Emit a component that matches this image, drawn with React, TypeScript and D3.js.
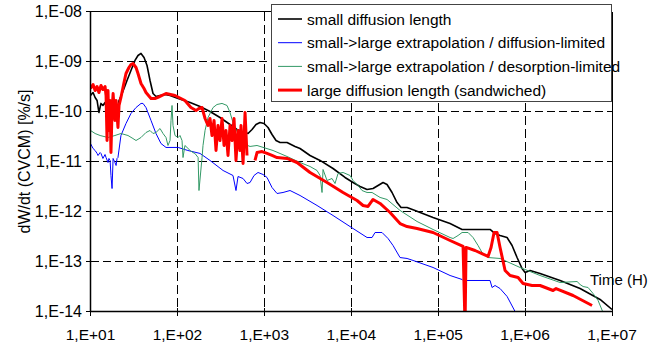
import React from 'react';
import * as d3 from 'd3';

type Pt = [number, number];

const xTicks = [1e1, 1e2, 1e3, 1e4, 1e5, 1e6, 1e7];
const xTickLabels = ['1,E+01', '1,E+02', '1,E+03', '1,E+04', '1,E+05', '1,E+06', '1,E+07'];
const yTicks = [1e-8, 1e-9, 1e-10, 1e-11, 1e-12, 1e-13, 1e-14];
const yTickLabels = ['1,E-08', '1,E-09', '1,E-10', '1,E-11', '1,E-12', '1,E-13', '1,E-14'];

const seriesNames = [
  'small diffusion length',
  'small->large extrapolation / diffusion-limited',
  'small->large extrapolation / desorption-limited',
  'large diffusion length (sandwiched)',
];
const seriesColors = ['#000000', '#0000ff', '#339966', '#ff0000'];
const seriesWidths = [1.6, 1, 1, 3];

const blackData: Pt[] = [
  [10, 2.09e-10], [10.7, 2.4e-10], [11.3, 1.91e-10], [11.9, 1.66e-10], [12.5, 9.55e-11],
  [13.2, 1.45e-10], [13.9, 1.32e-10], [14.7, 1.51e-10], [15.5, 1.05e-10], [16.3, 1.38e-10],
  [17.2, 9.55e-11], [18.2, 1.15e-10], [19.1, 9.12e-11], [20.2, 1.05e-10], [21.3, 1.66e-10],
  [22.4, 2.0e-10], [24.3, 2.88e-10], [26.3, 4.17e-10], [29.2, 6.61e-10], [32.5, 1.05e-9],
  [35.2, 1.32e-9], [38.1, 1.45e-9], [41.3, 1.2e-9], [44.7, 8.32e-10], [48.4, 4.17e-10],
  [52.4, 2.29e-10], [56.7, 2.0e-10], [63.1, 2.09e-10], [72.0, 2.19e-10], [82.2, 2.09e-10],
  [102, 1.82e-10], [140, 1.51e-10], [182, 1.26e-10], [237, 1.0e-10], [309, 7.59e-11],
  [403, 5.5e-11], [485, 4.37e-11], [554, 3.98e-11], [649, 3.63e-11], [722, 4.37e-11],
  [802, 5.5e-11], [892, 6.03e-11], [992, 5.75e-11], [1103, 4.79e-11], [1226, 3.47e-11],
  [1363, 2.63e-11], [1516, 2.4e-11], [1824, 2.4e-11], [2255, 2.0e-11], [2575, 1.82e-11],
  [3356, 1.32e-11], [4374, 1.05e-11], [6171, 7.24e-12], [8481, 4.79e-12], [10490, 3.8e-12],
  [12620, 3.16e-12], [15200, 2.75e-12], [17810, 2.88e-12], [20340, 3.31e-12], [23220, 3.8e-12],
  [25810, 3.47e-12], [29470, 2.4e-12], [33650, 1.51e-12], [37400, 1.2e-12], [43850, 1.2e-12],
  [54200, 1.05e-12], [87320, 7.59e-13], [137000, 5.75e-13], [188300, 4.37e-13], [395400, 4.37e-13],
  [451400, 3.63e-13], [515300, 3.31e-13], [620400, 3.02e-13], [708500, 2.09e-13], [808800, 1.2e-13],
  [923300, 7.24e-14], [1.0e6, 6.03e-14], [1.141e6, 6.61e-14], [1.487e6, 5.75e-14], [2.527e6, 4.17e-14],
  [4.292e6, 2.88e-14], [7.291e6, 1.74e-14], [1e7, 1.1e-14],
];

const blueData: Pt[] = [
  [10, 2.29e-11], [10.7, 1.82e-11], [11.3, 1.66e-11], [11.9, 1.45e-11], [12.2, 1.32e-11],
  [12.9, 1.51e-11], [13.2, 1.45e-11], [13.9, 1.15e-11], [14.7, 1.38e-11], [15.1, 1.2e-11],
  [15.9, 9.55e-12], [16.3, 1.15e-11], [16.8, 1.05e-11], [17.2, 5.25e-12], [17.7, 2.88e-12],
  [18.2, 1.15e-11], [19.1, 9.55e-12], [19.7, 8.32e-12], [20.2, 1.15e-11], [20.7, 1.2e-11],
  [22.4, 3.31e-11], [25.6, 5.75e-11], [29.2, 9.12e-11], [33.4, 1.2e-10], [38.1, 1.45e-10],
  [40.2, 1.45e-10], [43.5, 1.2e-10], [49.7, 6.61e-11], [56.7, 3.63e-11], [64.7, 2.29e-11],
  [73.9, 1.91e-11], [102, 1.91e-11], [132, 1.66e-11], [182, 1.45e-11], [237, 1.05e-11],
  [335, 6.61e-12], [436, 5.25e-12], [472, 2.63e-12], [498, 5.01e-12], [569, 4.57e-12],
  [632, 3.63e-12], [685, 3.8e-12], [761, 5.25e-12], [846, 6.03e-12], [966, 5.5e-12],
  [1074, 4.79e-12], [1226, 3.02e-12], [1400, 2.29e-12], [1641, 2.4e-12], [1975, 2.63e-12],
  [2575, 2.09e-12], [4040, 1.32e-12], [6171, 8.32e-13], [10490, 4.57e-13], [15200, 3.02e-13],
  [17350, 3.02e-13], [18780, 3.8e-13], [22610, 3.8e-13], [26510, 2.88e-13], [30260, 2.09e-13],
  [36420, 1.2e-13], [43850, 1.15e-13], [51400, 1.05e-13], [87320, 7.59e-14], [137000, 5.25e-14],
  [188300, 4.37e-14], [193400, 4.17e-14], [395400, 4.17e-14], [416900, 3.02e-14], [451400, 3.31e-14],
  [515300, 2.88e-14], [620400, 2.0e-14], [767000, 1.0e-14], [808800, 7e-15],
];

const greenData: Pt[] = [
  [10, 4.17e-11], [11.3, 3.63e-11], [12.9, 3.31e-11], [15.9, 3.02e-11], [19.1, 3.31e-11],
  [22.4, 3.63e-11], [27.0, 3.31e-11], [30.8, 2.88e-11], [33.4, 2.63e-11], [38.1, 3.02e-11],
  [43.5, 3.8e-11], [48.4, 4.17e-11], [52.4, 3.63e-11], [56.7, 3.8e-11], [63.1, 4.57e-11],
  [68.3, 3.63e-11], [73.9, 3.02e-11], [77.9, 2.09e-11], [82.2, 2.63e-11], [84.4, 6.61e-11],
  [86.7, 1.32e-10], [89.0, 5.25e-11], [93.8, 3.31e-11], [102, 3.02e-11], [107, 3.31e-11],
  [113, 2.63e-11], [116, 1.2e-11], [122, 2.09e-11], [129, 1.91e-11], [140, 1.66e-11],
  [151, 1.51e-11], [159, 1.45e-11], [173, 1.2e-11], [177, 2.63e-12], [192, 1.2e-11],
  [197, 2.09e-11], [208, 4.17e-11], [225, 7.59e-11], [257, 1.2e-10], [285, 1.38e-10],
  [326, 1.45e-10], [372, 1.32e-10], [403, 9.55e-11], [436, 6.03e-11], [485, 3.98e-11],
  [554, 2.88e-11], [600, 2.19e-11], [685, 2.0e-11], [824, 2.09e-11], [1259, 1.66e-11],
  [1824, 1.26e-11], [2575, 9.55e-12], [3356, 7.94e-12], [4040, 6.61e-12], [4374, 5.25e-12],
  [4612, 2.4e-12], [4736, 6.92e-12], [5265, 4.17e-12], [6010, 4.57e-12], [6507, 3.63e-12],
  [7047, 5.75e-12], [8045, 6.03e-12], [9685, 5.25e-12], [10490, 4.17e-12], [11970, 3.31e-12],
  [13310, 2.63e-12], [15200, 2.4e-12], [17350, 2.4e-12], [21450, 1.91e-12], [25810, 1.74e-12],
  [36420, 1.05e-12], [57150, 6.31e-13], [87320, 4.37e-13], [137000, 3.02e-13], [148400, 2.88e-13],
  [169300, 3.31e-13], [188300, 3.8e-13], [220800, 3.8e-13], [252000, 3.02e-13], [287700, 2.09e-13],
  [319900, 1.51e-13], [375000, 1.2e-13], [515300, 1.15e-13], [875700, 7.59e-14], [1.487e6, 5.25e-14],
  [2.527e6, 3.8e-14], [3.964e6, 3.98e-14], [4.292e6, 3.47e-14], [4.648e6, 3.16e-14], [5.305e6, 3.02e-14],
  [6.056e6, 2.29e-14], [6.915e6, 1.66e-14], [7.897e6, 9.5e-15],
];

const redData: Pt[] = [
  [10, 2.88e-10], [10.7, 3.47e-10], [11.3, 2.63e-10], [11.9, 3.16e-10], [12.5, 2.4e-10],
  [13.2, 3.31e-10], [13.9, 2.75e-10], [14.7, 3.16e-10], [15.1, 2.09e-10], [15.5, 2.63e-11],
  [15.9, 2.63e-10], [16.3, 4.17e-11], [16.8, 1.66e-10], [17.2, 1.51e-11], [17.7, 1.05e-10],
  [18.2, 2.29e-10], [19.1, 6.61e-11], [19.7, 1.66e-10], [20.7, 4.79e-11], [21.3, 1.32e-10],
  [22.4, 1.91e-10], [24.3, 3.8e-10], [25.6, 5.75e-10], [27.7, 7.59e-10], [29.2, 8.71e-10],
  [30.8, 9.12e-10], [33.4, 7.59e-10], [35.2, 5.75e-10], [38.1, 3.63e-10], [41.3, 2.88e-10],
  [43.5, 2.4e-10], [49.7, 1.82e-10], [55.2, 1.82e-10], [59.8, 1.91e-10], [73.9, 2.29e-10],
  [93.8, 2.09e-10], [122, 1.66e-10], [143, 1.2e-10], [164, 1.05e-10], [177, 1.15e-10],
  [192, 1.2e-10], [208, 7.24e-11], [225, 5.25e-11], [237, 7.24e-11], [250, 3.31e-11],
  [264, 6.61e-11], [278, 1.66e-11], [293, 5.25e-11], [309, 2.63e-11], [326, 7.24e-11],
  [344, 2.09e-11], [362, 4.17e-11], [382, 1.32e-11], [403, 5.25e-11], [425, 2.63e-11],
  [448, 7.24e-11], [472, 1.05e-11], [498, 4.17e-11], [525, 1.66e-11], [539, 5.25e-11],
  [569, 9.12e-12], [600, 9.55e-11], [632, 1.32e-11],
  [700, NaN],
  [781, 1.05e-11], [824, 1.51e-11], [941, 1.58e-11], [1074, 1.45e-11], [1226, 1.32e-11],
  [1400, 1.2e-11], [1824, 1.15e-11], [2378, 9.55e-12], [3356, 6.03e-12], [5265, 3.8e-12],
  [8045, 2.4e-12], [11660, 1.66e-12], [13670, 1.32e-12], [15600, 1.26e-12], [17810, 1.74e-12],
  [21450, 1.45e-12], [27950, 9.55e-13], [36420, 5.75e-13], [43850, 5.01e-13], [57150, 4.57e-13],
  [87320, 3.8e-13], [137000, 2.63e-13], [193400, 2.0e-13], [203900, 5e-15], [209400, 1.91e-13],
  [265700, 1.66e-13], [375000, 1.26e-13], [406000, 1.91e-13], [439700, 3.8e-13], [476000, 3.8e-13],
  [515300, 1.91e-13], [588500, 6.61e-14], [672000, 5.25e-14], [830500, 4.79e-14], [948000, 3.63e-14],
  [1.203e6, 3.31e-14], [1.487e6, 3.31e-14], [2.099e6, 2.63e-14], [2.273e6, 2.88e-14], [3.566e6, 2.09e-14],
  [5.897e6, 1.32e-14],
];

const allSeries = [blackData, blueData, greenData, redData];

const W = 666;
const H = 347;
const PL = 90.5;
const PR = 612;
const PT = 11.5;
const PB = 311.5;
const FONT = '"Liberation Sans", Arial, sans-serif';

export default function App() {
  const x = d3.scaleLog().domain([1e1, 1e7]).range([PL, PR]);
  const y = d3.scaleLog().domain([1e-14, 1e-8]).range([PB, PT]);
  const line = d3
    .line<Pt>()
    .defined((d) => !isNaN(d[1]))
    .x((d) => x(d[0]))
    .y((d) => y(d[1]));

  return (
    <svg
      width={W}
      height={H}
      style={{ position: 'absolute', left: 0, top: 0, background: '#fff' }}
      fontFamily={FONT}
    >
      <defs>
        <clipPath id="plotClip">
          <rect x={PL} y={PT} width={PR - PL} height={PB - PT} />
        </clipPath>
      </defs>
      <rect x={0} y={0} width={W} height={H} fill="#fff" />
      {yTicks.slice(1, -1).map((t, i) => (
        <line key={'gy' + i} x1={PL} x2={PR} y1={y(t)} y2={y(t)} stroke="#000" strokeWidth={1} strokeDasharray="8,4" shapeRendering="crispEdges" />
      ))}
      {xTicks.slice(1, -1).map((t, i) => (
        <line key={'gx' + i} y1={PT} y2={PB} x1={x(t)} x2={x(t)} stroke="#000" strokeWidth={1} strokeDasharray="9,4" shapeRendering="crispEdges" />
      ))}
      <line x1={PL} x2={PR} y1={PT} y2={PT} stroke="#000" strokeWidth={1} shapeRendering="crispEdges" />
      <line x1={PR} x2={PR} y1={PT} y2={PB} stroke="#000" strokeWidth={1} shapeRendering="crispEdges" />
      <g clipPath="url(#plotClip)">
        {allSeries.map((s, i) => (
          <path key={'s' + i} d={line(s) || ''} fill="none" stroke={seriesColors[i]} strokeWidth={seriesWidths[i]} strokeLinejoin="round" />
        ))}
      </g>
      <line x1={PL} x2={PL} y1={PT} y2={PB} stroke="#000" strokeWidth={1.5} />
      <line x1={PL} x2={PR} y1={PB} y2={PB} stroke="#000" strokeWidth={1.5} />
      {yTicks.map((t, i) => (
        <g key={'yt' + i}>
          <line x1={PL - 5} x2={PL} y1={y(t)} y2={y(t)} stroke="#000" strokeWidth={1} shapeRendering="crispEdges" />
          <text x={82} y={y(t)} dy="0.36em" textAnchor="end" fontSize={16} fill="#000">
            {yTickLabels[i]}
          </text>
        </g>
      ))}
      {xTicks.map((t, i) => (
        <g key={'xt' + i}>
          <line x1={x(t)} x2={x(t)} y1={PB - 4} y2={PB + 4} stroke="#000" strokeWidth={1} shapeRendering="crispEdges" />
          <text x={x(t)} y={340} textAnchor="middle" fontSize={15.5} fill="#000">
            {xTickLabels[i]}
          </text>
        </g>
      ))}
      <text transform={`translate(24,${(PT + PB) / 2}) rotate(-90)`} textAnchor="middle" dy="0.36em" fontSize={16} fill="#000">
        dW/dt (CVCM) [%/s]
      </text>
      <text x={590} y={285} fontSize={15} fill="#000">
        Time (H)
      </text>
      <rect x={271.5} y={4.5} width={340} height={97} fill="#fff" stroke="#444" strokeWidth={1} />
      {seriesNames.map((n, i) => (
        <g key={'lg' + i}>
          <line x1={278} x2={302} y1={19 + i * 23.7} y2={19 + i * 23.7} stroke={seriesColors[i]} strokeWidth={seriesWidths[i]} />
          <text x={307} y={19 + i * 23.7} dy="0.36em" fontSize={15.5} fill="#000">
            {n}
          </text>
        </g>
      ))}
    </svg>
  );
}
